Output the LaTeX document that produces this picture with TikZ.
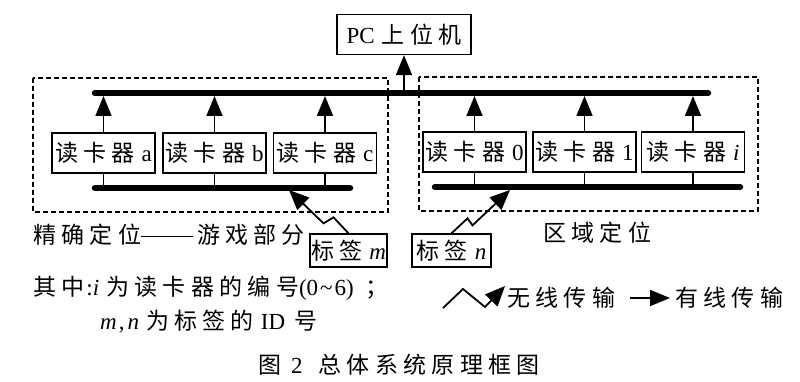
\documentclass[tikz,border=0pt]{standalone}
\usepackage{fontspec}
\setmainfont{Liberation Serif}
\newfontfamily\cjk[LetterSpace=23]{Noto Sans CJK SC}
\usetikzlibrary{arrows.meta}
\tikzset{
  box/.style={draw, line width=1.3pt, inner sep=0pt, minimum width=103pt, minimum height=40pt},
  tagbox/.style={draw, line width=1.3pt, inner sep=0pt, minimum height=33pt},
  bus/.style={line width=6.5pt, line cap=round},
  zone/.style={draw, line width=1.1pt, dash pattern=on 5pt off 3pt},
  wired/.style={line width=1.7pt, -{Triangle[length=20pt,width=16pt]}},
  wireless/.style={line width=1.8pt, line join=miter, -{Triangle[length=20pt,width=17pt]}},
  lbl/.style={inner sep=0pt, anchor=west},
}
\newcommand{\gp}{\hspace{7pt}}
\begin{document}
\begin{tikzpicture}[x=1pt,y=-1pt,font=\fontsize{23}{23}\selectfont]
\useasboundingbox (0,0) rectangle (800,382);
% zones
\draw[zone] (33,78) rectangle (388,212);
\draw[zone] (419,77) rectangle (758,211);
% PC
\node[box, minimum width=134pt] (pc) at (404,34.5) {PC\gp{\cjk 上位机}};
% buses
\coordinate (tbl) at (95,93);
\coordinate (tbr) at (708,93);
\coordinate (bll) at (95,188);
\coordinate (blr) at (350,188);
\coordinate (brl) at (435,187);
\coordinate (brr) at (740,187);
\draw[bus] (tbl) -- (tbr);
\draw[bus] (bll) -- (blr);
\draw[bus] (brl) -- (brr);
% readers
\node[box] (ra) at (103.5,153) {{\cjk 读卡器}\gp a};
\node[box] (rb) at (214.5,153) {{\cjk 读卡器}\gp b};
\node[box] (rc) at (325,153) {{\cjk 读卡器}\gp c};
\node[box] (r0) at (474.5,152) {{\cjk 读卡器}\gp 0};
\node[box] (r1) at (584.5,152) {{\cjk 读卡器}\gp 1};
\node[box] (ri) at (693,152) {{\cjk 读卡器}\gp\textit{i}};
% wired arrows up to top bus
\foreach \r in {ra,rb,rc,r0,r1,ri}{
  \draw[wired, shorten >=3pt] (\r.north) -- (\r.north |- tbl);
}
\draw[wired, shorten <=3pt] (tbl -| pc.south) -- (pc.south);
% short links down to bottom buses
\foreach \r in {ra,rb,rc}{ \draw[line width=1.7pt] (\r.south) -- (\r.south |- bll); }
\foreach \r in {r0,r1,ri}{ \draw[line width=1.7pt] (\r.south) -- (\r.south |- brl); }
% tags
\node[tagbox, minimum width=77pt] (tm) at (348.5,250.5) {{\cjk 标签}\gp\textit{m}};
\node[tagbox, minimum width=79pt] (tn) at (451.5,250.5) {{\cjk 标签}\gp\textit{n}};
\coordinate (tipm) at (289,190);
\coordinate (tipn) at (510,190);
\draw[wireless] (tm.north) -- ++(-15,-16) -- ++(-10,6) -- (tipm);
\draw[wireless] (tn.north) -- ++(16,-15) -- ++(5,7) -- (tipn);
% labels
\node[lbl] (lz1) at (33,235) {{\cjk 精确定位}\rule[0.3em]{52pt}{1.2pt}\hspace{4pt}{\cjk 游戏部分}};
\node[lbl] (lz2) at (543,233) {\cjk 区域定位};
\node[lbl] (n1) at (33,288) {{\cjk 其中}\hspace{2pt}:\textit{i}\gp{\cjk 为读卡器的编号}(0\hspace{2pt}\textasciitilde\hspace{2pt}6)\hspace{12pt}{\cjk ；}};
\node[lbl] (n2) at (100,322) {\textit{m}\hspace{2pt},\hspace{3pt}\textit{n}\gp{\cjk 为标签的}\gp ID\hspace{9pt}{\cjk 号}};
% legend
\coordinate (lw0) at (443,308);
\coordinate (lw3) at (505,286);
\draw[wireless] (lw0) -- (463,289) -- (485,307) -- (lw3);
\node[lbl] (lwt) at (507,298) {\cjk 无线传输};
\coordinate (la0) at (630,298);
\coordinate (la1) at (670,298);
\draw[wired] (la0) -- (la1);
\node[lbl] (lat) at (675,298) {\cjk 有线传输};
% caption
\node[lbl] (cap) at (258,365) {{\cjk 图}\hspace{10pt}2\hspace{16pt}{\cjk 总体系统原理框图}};
\end{tikzpicture}
\end{document}
